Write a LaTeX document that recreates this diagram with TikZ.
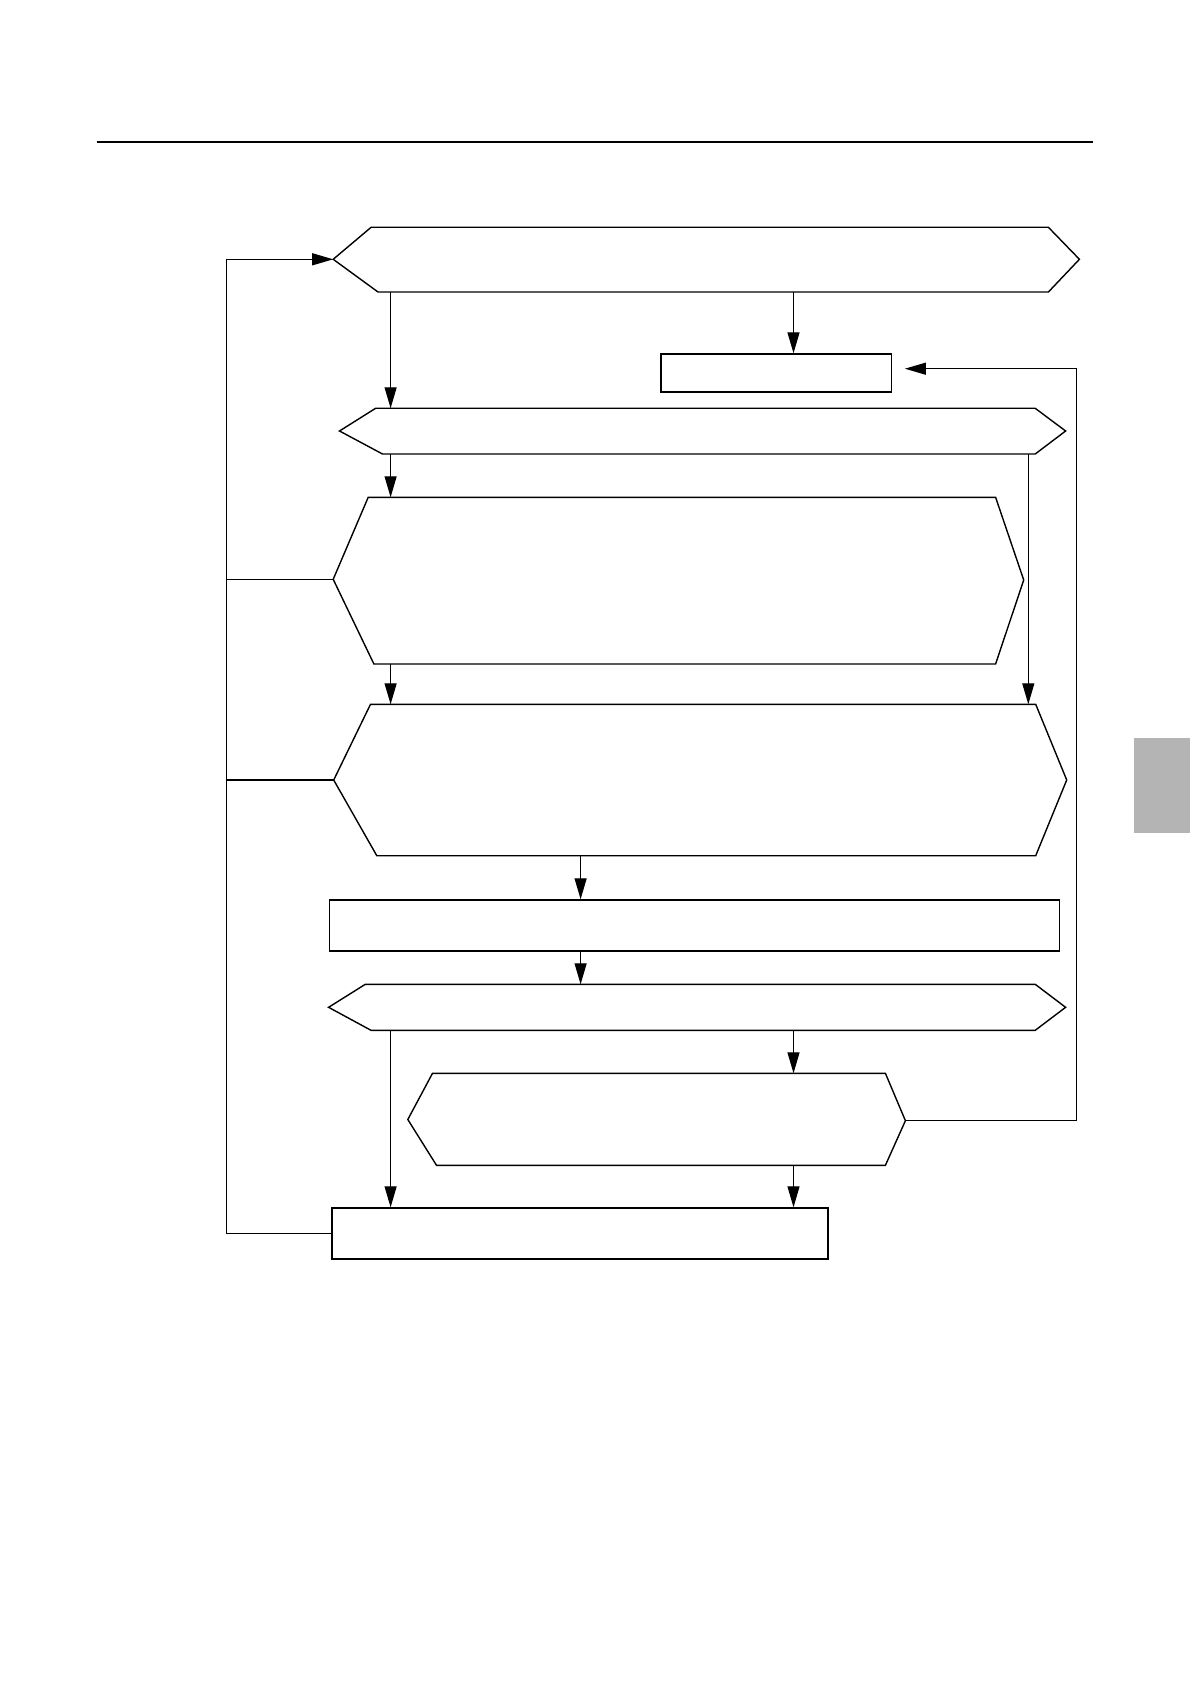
\documentclass[tikz,border=0pt]{standalone}
\usetikzlibrary{arrows.meta}
\begin{document}
\begin{tikzpicture}[x=0.5pt,y=-0.5pt,
  line/.style={line width=0.6pt,line join=miter},
  shapeline/.style={line width=0.7pt,line join=miter},
  arr/.style={line width=0.6pt,-{Triangle[length=10.5pt,width=6pt]}},
  boxnode/.style={draw,line width=0.7pt,inner sep=0pt,anchor=north west}]
\useasboundingbox[fill=white] (0,0) rectangle (1190,1684);
% header rule
\draw[line width=1pt] (96.7,141.8) -- (1093.4,141.8);
% grey tab
\fill[fill={rgb,255:red,180;green,180;blue,180}] (1134,738) rectangle (1190,832.5);

% H1
\draw[shapeline] (333.2,259.3) -- (371.1,227.3) -- (1048.4,227.3) -- (1079.4,259.3) -- (1048.4,292) -- (378,292) -- cycle;
\coordinate (h1L) at (333.2,259.3);
\coordinate (h1a) at (390.6,292);
\coordinate (h1b) at (793.5,292);
% R1
\node[boxnode,minimum width=230.2*0.5pt,minimum height=38*0.5pt] (r1) at (660.3,353.3) {};
% H2
\draw[shapeline] (339.5,431) -- (375.6,408.3) -- (1035.2,408.3) -- (1065.6,431) -- (1035.2,454) -- (382.5,454) -- cycle;
\coordinate (h2top) at (390.6,408.3);
\coordinate (h2a) at (390.6,454);
\coordinate (h2b) at (1028.3,454);
% H3
\draw[shapeline] (333.2,579.3) -- (368.2,497.3) -- (995.6,497.3) -- (1023.7,580) -- (995.6,664) -- (373.9,664) -- cycle;
\coordinate (h3L) at (333.2,579.3);
\coordinate (h3top) at (390.6,497.3);
\coordinate (h3a) at (390.6,664);
% H4
\draw[shapeline] (333.7,780) -- (370.5,704.3) -- (1035.7,704.3) -- (1066.7,780) -- (1035.7,855.7) -- (376.8,855.7) -- cycle;
\coordinate (h4L) at (333.7,780);
\coordinate (h4ta) at (390.6,704.3);
\coordinate (h4tb) at (1028.3,704.3);
\coordinate (h4bot) at (580.6,855.7);
% R2
\node[boxnode,minimum width=730.1*0.5pt,minimum height=51*0.5pt] (r2) at (328.6,899.3) {};
% H5
\draw[shapeline] (328.6,1007.3) -- (365.3,984.3) -- (1035.2,984.3) -- (1065.6,1007.3) -- (1035.2,1030.3) -- (371,1030.3) -- cycle;
\coordinate (h5top) at (580.6,984.3);
\coordinate (h5a) at (390.6,1030.3);
\coordinate (h5b) at (793.5,1030.3);
% H6
\draw[shapeline] (407.8,1119.5) -- (432.5,1073.3) -- (885.4,1073.3) -- (905.4,1120.7) -- (885.4,1165.3) -- (436.5,1165.3) -- cycle;
\coordinate (h6R) at (905.4,1120.7);
\coordinate (h6top) at (793.5,1073.3);
\coordinate (h6bot) at (793.5,1165.3);
% R3
\node[boxnode,minimum width=496*0.5pt,minimum height=51*0.5pt] (r3) at (331.4,1207.3) {};

% left loop
\coordinate (lb) at (226.4,1233.3);
\coordinate (lt) at (226.4,259.3);
\coordinate (l3) at (226.4,579.3);
\coordinate (l4) at (226.4,780);
% right loop
\coordinate (rb) at (1076.5,1120.7);
\coordinate (rt) at (1076.5,368.7);
\coordinate (r1in) at (904.9,368.7);

% connectors
\draw[arr] (h1a) -- (h2top);
\draw[arr] (h1b) -- (h1b |- r1.north);
\draw[arr] (h2a) -- (h3top);
\draw[arr] (h3a) -- (h4ta);
\draw[arr] (h2b) -- (h4tb);
\draw[arr] (h4bot) -- (h4bot |- r2.north);
\draw[arr] (h4bot |- r2.south) -- (h5top);
\draw[arr] (h5b) -- (h6top);
\draw[arr] (h5a) -- (h5a |- r3.north);
\draw[arr] (h6bot) -- (h6bot |- r3.north);
\draw[arr] (lb -| r3.west) -- (lb) -- (lt) -- (h1L);
\draw[line] (l3) -- (h3L);
\draw[line] (l4) -- (h4L);
\draw[arr] (h6R) -- (rb) -- (rt) -- (r1in);
\end{tikzpicture}
\end{document}
